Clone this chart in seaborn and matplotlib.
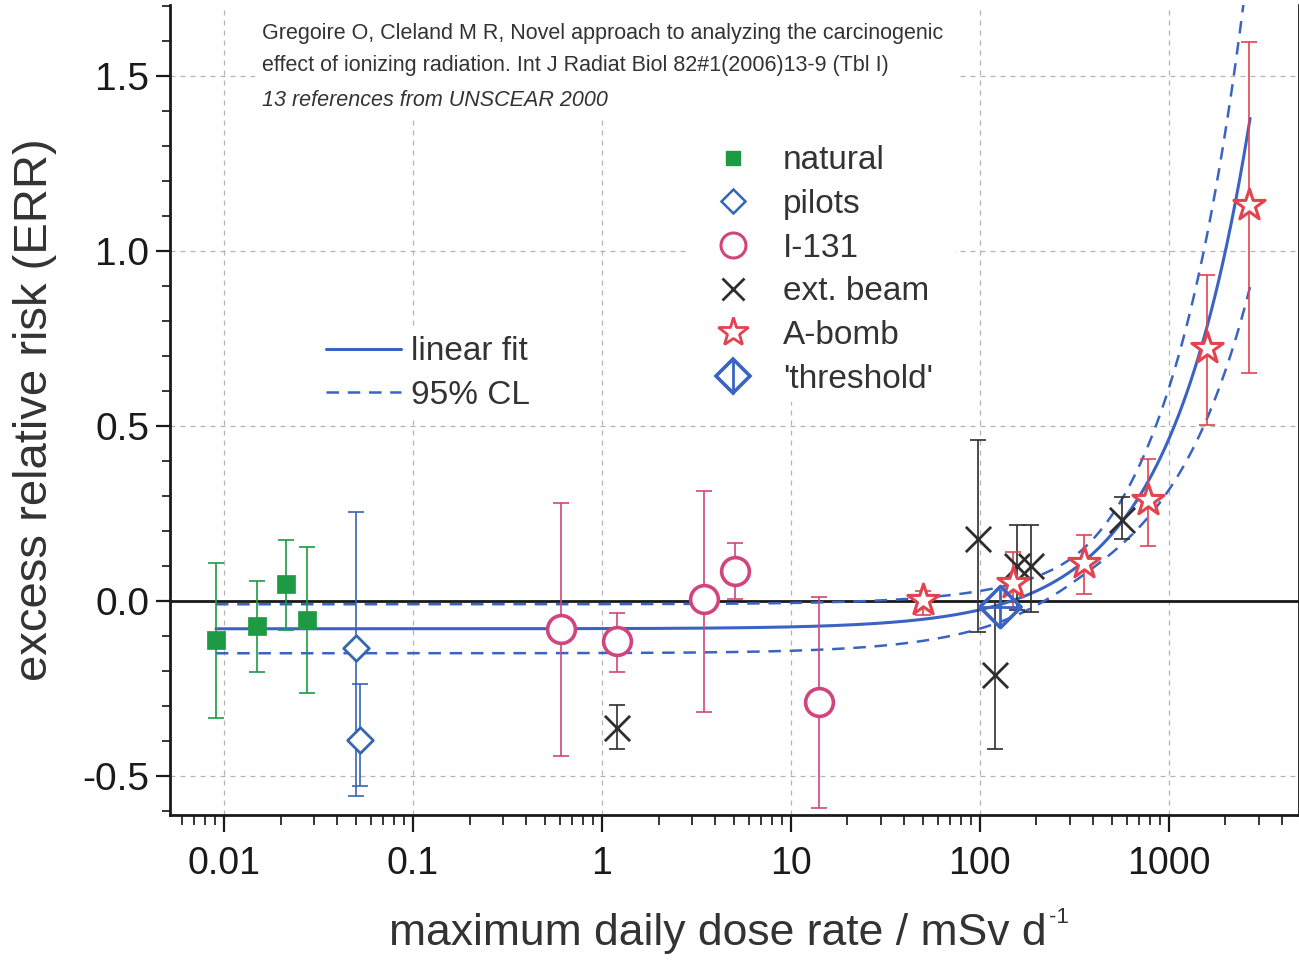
import numpy as np
import pandas as pd
import matplotlib
matplotlib.use("Agg")
import matplotlib.pyplot as plt
import seaborn as sns
from matplotlib.lines import Line2D
from matplotlib.patches import Rectangle
from matplotlib.legend_handler import HandlerTuple
from matplotlib.ticker import FixedLocator, LogLocator, NullFormatter, MultipleLocator, FixedFormatter

# ---- data: dose rate (mSv/d), ERR, lower / upper bounds -------------------
natural_x = [0.0091, 0.0151, 0.0215, 0.0275]
natural_y = [-0.111, -0.071, 0.049, -0.054]
natural_lo = [-0.334, -0.203, -0.083, -0.263]
natural_hi = [0.109, 0.057, 0.174, 0.154]

pilots_x = [0.050, 0.0524]
pilots_y = [-0.134, -0.397]
pilots_lo = [-0.557, -0.529]
pilots_hi = [0.254, -0.237]

i131_x = [0.607, 1.20, 3.47, 5.06, 14.2]
i131_y = [-0.080, -0.114, 0.006, 0.086, -0.289]
i131_lo = [-0.443, -0.203, -0.317, 0.006, -0.591]
i131_hi = [0.280, -0.034, 0.314, 0.166, 0.011]

beam_x = [1.20, 97.5, 120.0, 157.0, 188.0, 564.0]
beam_y = [-0.363, 0.177, -0.211, 0.100, 0.100, 0.231]
beam_lo = [-0.423, -0.089, -0.423, -0.026, -0.030, 0.177]
beam_hi = [-0.297, 0.460, 0.000, 0.217, 0.217, 0.297]

abomb_x = [50.0, 150.0, 355.0, 783.0, 1589.0, 2649.0]
abomb_y = [0.003, 0.051, 0.109, 0.289, 0.723, 1.131]
abomb_lo = [-0.040, -0.020, 0.020, 0.157, 0.503, 0.651]
abomb_hi = [0.030, 0.140, 0.189, 0.406, 0.931, 1.597]

threshold_x = [129.0]
threshold_y = [-0.017]

# linear fit ERR = a + b*D and its 95% confidence band
fit_intercept = -0.079
fit_slope = 0.00054
band_const = 0.036
band_slope = 0.0002
band_center = 300.0
fit_range = (0.0091, 2700.0)

x_ticks = [0.01, 0.1, 1, 10, 100, 1000]
x_tick_labels = ["0.01", "0.1", "1", "10", "100", "1000"]
y_ticks = [-0.5, 0.0, 0.5, 1.0, 1.5]
y_tick_labels = ["-0.5", "0.0", "0.5", "1.0", "1.5"]

# ---- styling ------------------------------------------------------------
sns.set_style("ticks")
SANS = ["Liberation Sans", "DejaVu Sans"]
plt.rcParams["font.family"] = SANS

C_NAT = "#1e9a45"
C_PIL = "#3565b5"
C_I131 = "#d2447f"
C_BEAM = "#2e2e2e"
C_ABOMB = "#e2434f"
C_FIT = "#3a64c2"
C_TEXT = "#333333"

W, H = 1299, 961
fig = plt.figure(figsize=(W / 100, H / 100), dpi=100)
ax = fig.add_axes([170 / W, 1 - 815 / H, 1 - 170 / W, (815 - 5) / H])

ax.set_xscale("log")
ax.set_xlim(0.0052, 4900)
ax.set_ylim(-0.611, 1.703)

ax.grid(True, which="major", ls=(0, (4, 4)), color="#b4b4b4", lw=0.9, zorder=0)
ax.axhline(0, color="#1a1a1a", lw=2.0, zorder=2)

# white panels behind the note and the legends (hide the grid there)
for (x0, y0, x1, y1) in [(255, 10, 958, 118), (690, 118, 955, 402)]:
    ax.add_patch(Rectangle((x0 / W, 1 - y1 / H), (x1 - x0) / W, (y1 - y0) / H,
                           transform=fig.transFigure, fc="white", ec="none",
                           zorder=1, clip_on=False))

# fit curve and band
xf = np.logspace(np.log10(fit_range[0]), np.log10(fit_range[1]), 500)
yf = fit_intercept + fit_slope * xf
half = np.sqrt(band_const ** 2 + (band_slope * (xf - band_center)) ** 2)
fit_df = pd.DataFrame({"x": xf, "fit": yf, "upper": yf + half, "lower": yf - half})
sns.lineplot(data=fit_df, x="x", y="fit", ax=ax, color=C_FIT, lw=2.2, zorder=3)
for col in ["upper", "lower"]:
    sns.lineplot(data=fit_df, x="x", y=col, ax=ax, color=C_FIT, lw=1.8,
                 linestyle=(0, (5, 3.5)), zorder=3)


def series(xs, ys, lo, hi, color, marker, size, filled=False, lw=2.0):
    xs, ys, lo, hi = map(np.asarray, (xs, ys, lo, hi))
    ax.errorbar(xs, ys, yerr=[ys - lo, hi - ys], fmt="none", ecolor=color,
                elinewidth=1.2, capsize=6, capthick=1.2, zorder=4)
    df = pd.DataFrame({"x": xs, "y": ys})
    sns.scatterplot(data=df, x="x", y="y", ax=ax, marker=marker, s=size,
                    color=color, linewidth=lw, zorder=5, legend=False)
    coll = ax.collections[-1]
    if filled or marker == "x":
        coll.set_facecolor(color)
    else:
        coll.set_facecolor("white")
    coll.set_edgecolor(color)
    coll.set_linewidth(lw)


series(natural_x, natural_y, natural_lo, natural_hi, C_NAT, "s", 170, filled=True, lw=0.5)
series(pilots_x, pilots_y, pilots_lo, pilots_hi, C_PIL, "D", 170, lw=2.0)
series(i131_x, i131_y, i131_lo, i131_hi, C_I131, "o", 400, lw=2.6)
series(beam_x, beam_y, beam_lo, beam_hi, C_BEAM, "x", 330, lw=2.0)
series(abomb_x, abomb_y, abomb_lo, abomb_hi, C_ABOMB, "*", 560, lw=2.2)

# 'threshold' point: diamond with cross
thr = pd.DataFrame({"x": threshold_x, "y": threshold_y})
sns.scatterplot(data=thr, x="x", y="y", ax=ax, marker="D", s=440, color=C_FIT,
                linewidth=2.6, zorder=6, legend=False)
ax.collections[-1].set_facecolor("none")
ax.collections[-1].set_edgecolor(C_FIT)
ax.plot(threshold_x, threshold_y, marker="+", ms=26, mew=2.0, color=C_FIT,
        ls="none", zorder=6)

ax.set_xlabel("")
ax.set_ylabel("")

# ---- axes, ticks -------------------------------------------------------
sns.despine(ax=ax, top=True, right=False)
for s in ["left", "bottom", "right"]:
    ax.spines[s].set_linewidth(2.0)
    ax.spines[s].set_color("#1a1a1a")

ax.xaxis.set_major_locator(FixedLocator(x_ticks))
ax.xaxis.set_major_formatter(FixedFormatter(x_tick_labels))
ax.xaxis.set_minor_locator(LogLocator(base=10, subs=np.arange(2, 10), numticks=20))
ax.xaxis.set_minor_formatter(NullFormatter())
ax.yaxis.set_major_locator(FixedLocator(y_ticks))
ax.yaxis.set_major_formatter(FixedFormatter(y_tick_labels))
ax.yaxis.set_minor_locator(MultipleLocator(0.1))

ax.tick_params(axis="x", which="major", direction="out", length=12, width=1.6,
               pad=10, labelsize=27, colors="#1a1a1a")
ax.tick_params(axis="x", which="minor", direction="out", length=7, width=1.3)
ax.tick_params(axis="y", which="major", direction="out", length=10, width=1.6,
               pad=5, labelsize=28, colors="#1a1a1a", right=True)
ax.tick_params(axis="y", which="minor", direction="out", length=6, width=1.3, right=True)

# axis titles
xlab = fig.text(718 / W, 1 - 934 / H, "maximum daily dose rate / mSv d",
                ha="center", va="center", fontsize=32, color=C_TEXT)
fig.canvas.draw()
bb = xlab.get_window_extent(fig.canvas.get_renderer())
fig.text((bb.x1 + 2) / W, (bb.y1 - 4) / H, "-1", ha="left", va="center",
         fontsize=16, color=C_TEXT)
fig.text(35 / W, 1 - 410 / H, "excess relative risk (ERR)", rotation=90,
         ha="center", va="center", fontsize=34, color=C_TEXT)

# ---- reference note ----------------------------------------------------
note_kw = dict(fontsize=15.5, color=C_TEXT, ha="left", va="center", zorder=3)
fig.text(262 / W, 1 - 33 / H,
         "Gregoire O, Cleland M R, Novel approach to analyzing the carcinogenic", **note_kw)
fig.text(262 / W, 1 - 66 / H,
         "effect of ionizing radiation. Int J Radiat Biol 82#1(2006)13-9 (Tbl I)", **note_kw)
fig.text(262 / W, 1 - 100 / H, "13 references from UNSCEAR 2000",
         style="italic", **note_kw)

# ---- legends -----------------------------------------------------------
h_nat = Line2D([], [], ls="none", marker="s", ms=10, color=C_NAT)
h_pil = Line2D([], [], ls="none", marker="D", ms=12, mfc="white", mec=C_PIL, mew=1.8)
h_i131 = Line2D([], [], ls="none", marker="o", ms=18, mfc="white", mec=C_I131, mew=2.2)
h_beam = Line2D([], [], ls="none", marker="x", ms=16, color=C_BEAM, mew=2.0)
h_ab = Line2D([], [], ls="none", marker="*", ms=22, mfc="white", mec=C_ABOMB, mew=2.0)
h_thr_d = Line2D([], [], ls="none", marker="D", ms=17, mfc="white", mec=C_FIT, mew=2.6)
h_thr_l = Line2D([], [], ls="none", marker="|", ms=26, color=C_FIT, mew=2.0)

leg1 = ax.legend([h_nat, h_pil, h_i131, h_beam, h_ab, (h_thr_d, h_thr_l)],
                 ["natural", "pilots", "I-131", "ext. beam", "A-bomb", "'threshold'"],
                 handler_map={tuple: HandlerTuple(ndivide=1, pad=0)},
                 loc="upper left", bbox_to_anchor=((683 - 170) / 1129, (815 - 122) / 810),
                 frameon=True, facecolor="white", edgecolor="none", framealpha=1,
                 handlelength=1.6, handletextpad=0.7, labelspacing=0.38,
                 borderpad=0.2, prop={"family": SANS, "size": 24})
for t in leg1.get_texts():
    t.set_color(C_TEXT)
ax.add_artist(leg1)

h_fit = Line2D([], [], color=C_FIT, lw=2.2)
h_cl = Line2D([], [], color=C_FIT, lw=1.8, ls=(0, (5, 3.5)))
leg2 = ax.legend([h_fit, h_cl], ["linear fit", "95% CL"], loc="upper left",
                 bbox_to_anchor=((303 - 170) / 1129, (815 - 313) / 810),
                 frameon=True, facecolor="white", edgecolor="none", framealpha=1,
                 handlelength=2.25, handletextpad=0.3, labelspacing=0.38,
                 borderpad=0.2, prop={"family": SANS, "size": 24})
for t in leg2.get_texts():
    t.set_color(C_TEXT)

fig.savefig("out.png", dpi=100)
